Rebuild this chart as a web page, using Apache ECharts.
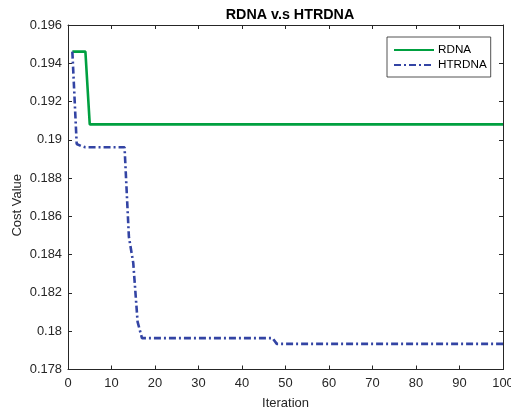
<!DOCTYPE html>
<html>
<head>
<meta charset="utf-8">
<script src="https://cdn.jsdelivr.net/npm/echarts@6/dist/echarts.min.js"></script>
<style>
html,body{margin:0;padding:0;background:#fff;}
#chart{width:511px;height:412px;}
</style>
</head>
<body>
<div id="chart"></div>
<script>
// Data (iteration breakpoints and cost values)
const titleText = 'RDNA v.s HTRDNA';
const xName = 'Iteration';
const yName = 'Cost Value';
const seriesNames = ['RDNA', 'HTRDNA'];

const rdnaIter = [1, 4, 5, 100];
const rdnaCost = [0.19461, 0.19461, 0.19081, 0.19081];

const htrIter = [1, 2, 3, 4, 13, 14, 15, 16, 17, 47, 48, 100];
const htrCost = [0.19461, 0.18978, 0.18968, 0.18961, 0.18961, 0.18493, 0.18357, 0.18049, 0.17964, 0.17964, 0.17934, 0.17934];

const xMin = 0, xMax = 100, xStep = 10;
const yMin = 0.178, yMax = 0.196, yStep = 0.002;

function pairs(xs, ys) { return xs.map((x, i) => [x, ys[i]]); }

const axisColor = '#262626';
const font = "'Liberation Sans', Arial, Helvetica, sans-serif";

const chart = echarts.init(document.getElementById('chart'), null, {renderer: 'canvas'});

const baseAxis = {
  axisLine: {show: true, onZero: false, lineStyle: {color: axisColor, width: 1}},
  axisTick: {show: true, inside: true, length: 4, lineStyle: {color: axisColor}},
  splitLine: {show: false}
};

chart.setOption({
  animation: false,
  backgroundColor: '#ffffff',
  title: {
    text: titleText,
    left: 285, top: 3, textAlign: 'center',
    textStyle: {fontFamily: font, fontSize: 14.3, fontWeight: 'bold', color: '#000'}
  },
  grid: {left: 68, right: 8, top: 25, bottom: 42.5, containLabel: false, outerBoundsMode: 'none'},
  legend: {
    orient: 'vertical',
    left: 387, top: 37,
    padding: [7, 4, 6, 6],
    itemWidth: 40, itemHeight: 14, itemGap: 3,
    borderColor: axisColor, borderWidth: 0.8,
    backgroundColor: '#fff',
    itemStyle: {opacity: 0},
    textStyle: {fontFamily: font, fontSize: 11.7, color: '#000', padding: [0, 0, 0, -1]},
    data: seriesNames
  },
  xAxis: [
    Object.assign({}, baseAxis, {
      type: 'value', min: xMin, max: xMax, interval: xStep, position: 'bottom',
      name: xName, nameLocation: 'middle', nameGap: 27, nameMoveOverlap: false,
      nameTextStyle: {fontFamily: font, fontSize: 13, color: axisColor},
      axisLabel: {fontFamily: font, fontSize: 12.9, color: axisColor, margin: 7}
    }),
    Object.assign({}, baseAxis, {
      type: 'value', min: xMin, max: xMax, interval: xStep, position: 'top',
      axisLabel: {show: false}
    })
  ],
  yAxis: [
    Object.assign({}, baseAxis, {
      type: 'value', min: yMin, max: yMax, interval: yStep, position: 'left',
      name: yName, nameLocation: 'middle', nameGap: 44, nameMoveOverlap: false,
      nameTextStyle: {fontFamily: font, fontSize: 13, color: axisColor, padding: [0, 16, 0, 0]},
      axisLabel: {fontFamily: font, fontSize: 12.9, color: axisColor, margin: 6,
        formatter: v => String(parseFloat(v.toFixed(3)))}
    }),
    Object.assign({}, baseAxis, {
      type: 'value', min: yMin, max: yMax, interval: yStep, position: 'right',
      axisLabel: {show: false}
    })
  ],
  series: [
    {
      name: seriesNames[0], type: 'line', xAxisIndex: 0, yAxisIndex: 0,
      data: pairs(rdnaIter, rdnaCost), showSymbol: false, symbol: 'none',
      lineStyle: {color: '#00a040', width: 2.6},
      itemStyle: {color: '#00a040'}
    },
    {
      name: seriesNames[1], type: 'line', xAxisIndex: 0, yAxisIndex: 0,
      data: pairs(htrIter, htrCost), showSymbol: false, symbol: 'none',
      lineStyle: {color: '#3344a4', width: 2.6, type: [7, 3, 2, 3]},
      itemStyle: {color: '#3344a4'}
    }
  ]
});
</script>
</body>
</html>
